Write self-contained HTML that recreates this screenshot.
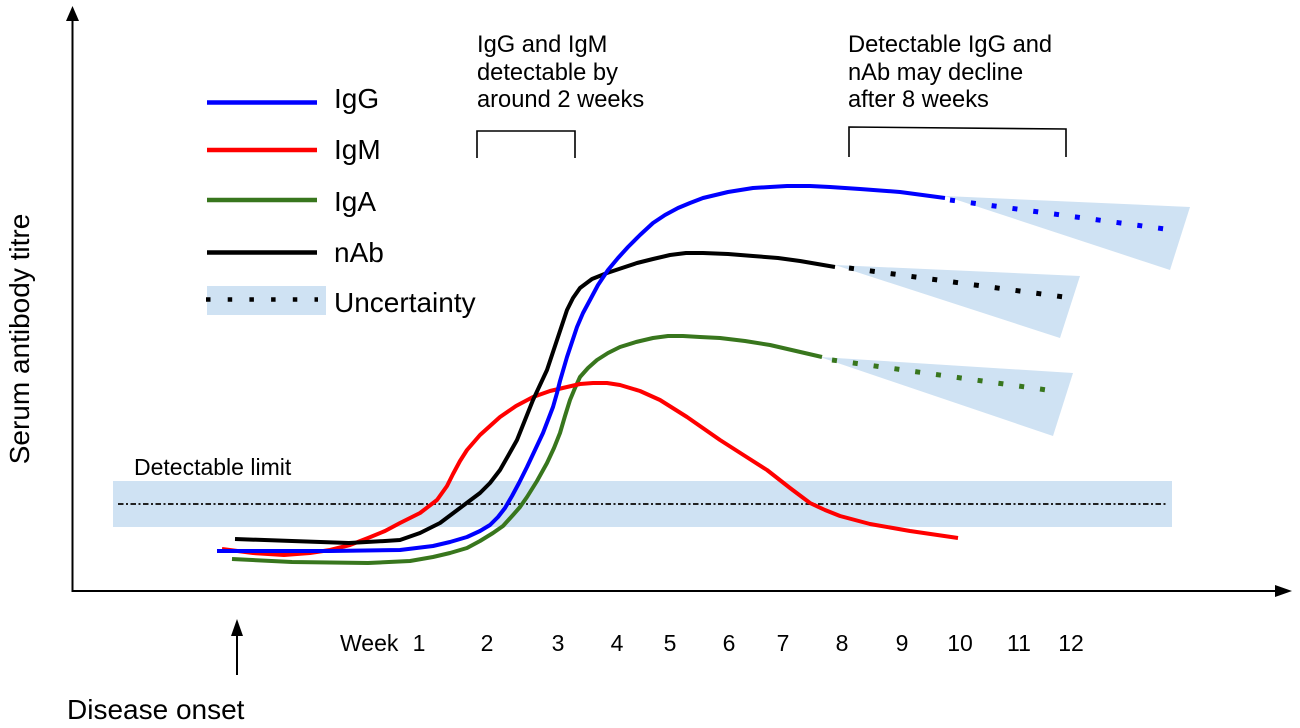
<!DOCTYPE html>
<html>
<head>
<meta charset="utf-8">
<style>
  html,body{margin:0;padding:0;background:#fff;}
  svg{display:block;}
  text{font-family:"Liberation Sans", Arial, sans-serif; fill:#000;}
</style>
</head>
<body>
<svg width="1300" height="728" viewBox="0 0 1300 728" xmlns="http://www.w3.org/2000/svg">
  <rect x="0" y="0" width="1300" height="728" fill="#fff"/>

  <!-- Detectable limit band -->
  <rect x="113" y="481" width="1059" height="46" fill="#cfe2f3"/>
  <line x1="118" y1="504" x2="1168" y2="504" stroke="#222" stroke-width="1.9" stroke-dasharray="5.5 2.5 2 2.5"/>
  <text x="134" y="475" font-size="23">Detectable limit</text>

  <!-- Axes -->
  <line x1="72.5" y1="18" x2="72.5" y2="592" stroke="#000" stroke-width="2"/>
  <polygon points="72.5,6 66,21 79,21" fill="#000"/>
  <line x1="72" y1="591" x2="1278" y2="591" stroke="#000" stroke-width="2"/>
  <polygon points="1292,591 1275,585 1275,597" fill="#000"/>

  <!-- Y label -->
  <text transform="translate(29,339) rotate(-90)" text-anchor="middle" font-size="28">Serum antibody titre</text>

  <!-- Legend -->
  <line x1="207" y1="102.5" x2="317" y2="102.5" stroke="#0000ff" stroke-width="4.5"/>
  <text x="334" y="108" font-size="28">IgG</text>
  <line x1="207" y1="150" x2="317" y2="150" stroke="#ff0000" stroke-width="4.5"/>
  <text x="334" y="159" font-size="28">IgM</text>
  <line x1="207" y1="200" x2="317" y2="200" stroke="#38761d" stroke-width="4.5"/>
  <text x="334" y="211" font-size="28">IgA</text>
  <line x1="207" y1="252.5" x2="317" y2="252.5" stroke="#000" stroke-width="4.5"/>
  <text x="334" y="262" font-size="28">nAb</text>
  <rect x="207" y="286" width="119" height="29" fill="#cfe2f3"/>
  <line x1="206" y1="299.5" x2="318" y2="299.5" stroke="#000" stroke-width="4.5" stroke-dasharray="4.5 17.2"/>
  <text x="334" y="312" font-size="28">Uncertainty</text>

  <!-- Annotations -->
  <g font-size="23.7">
    <text x="477" y="52">IgG and IgM</text>
    <text x="477" y="80">detectable by</text>
    <text x="477" y="107">around 2 weeks</text>
    <text x="848" y="52">Detectable IgG and</text>
    <text x="848" y="80">nAb may decline</text>
    <text x="848" y="107">after 8 weeks</text>
  </g>
  <polyline points="477,158 477,131 575,131 575,158" fill="none" stroke="#000" stroke-width="1.6"/>
  <polyline points="849,157 849,127 1066,129 1066,157" fill="none" stroke="#000" stroke-width="1.6"/>

  <!-- Uncertainty wedges -->
  <polygon points="945,196 1190,207 1170,270" fill="#cfe2f3"/>
  <polygon points="835,265 1080,276 1060,338" fill="#cfe2f3"/>
  <polygon points="820,357 1073,373 1053,436" fill="#cfe2f3"/>

  <!-- Dotted continuations -->
  <line x1="950" y1="200" x2="1165" y2="229" stroke="#0000ff" stroke-width="5" stroke-dasharray="5 16"/>
  <line x1="849" y1="268" x2="1064" y2="297" stroke="#000" stroke-width="5" stroke-dasharray="5 16"/>
  <line x1="832" y1="360" x2="1047" y2="390" stroke="#38761d" stroke-width="5" stroke-dasharray="5 16"/>

  <!-- Curves -->
  <g fill="none" stroke-width="4" stroke-linejoin="round" stroke-linecap="butt">
    <!-- IgA green -->
    <polyline stroke="#38761d" points="232,559 292,562 368,563 410,561 433,557 450,553 467,548 480,541 493,533 503,526 513,515 520,507 527,497 537,481 547,463 554,448 560,433 565,416 570,400 575,388 580,377 588,368 597,360 608,353 620,347 636,342 653,338 668,336 683,336 700,337 720,338 745,341 770,345 796,351 822,357"/>
    <!-- IgM red -->
    <polyline stroke="#ff0000" points="222,549 253,553 284,555 310,553 330,550 350,545 368,538 385,531 400,523 420,513 437,500 447,486 453,474 460,461 467,450 480,435 490,426 500,417 516,406 533,397 550,391 567,387 580,384 593,383 607,383 620,385 640,391 660,400 687,417 720,440 745,456 767,470 790,488 810,503 825,510 840,516 870,524 910,531 958,538"/>
    <!-- nAb black -->
    <polyline stroke="#000" points="235,539 292,541 349,543 385,541 400,540 420,533 440,523 460,508 480,493 490,483 500,470 508,456 517,440 525,420 533,400 540,385 547,370 552,355 557,340 562,325 567,310 573,298 580,288 592,279 607,273 622,268 637,263 653,259 670,255 686,253 703,253 728,254 753,256 778,258 800,261 835,267"/>
    <!-- IgG blue -->
    <polyline stroke="#0000ff" points="217,551 253,551 330,551 400,550 433,546 450,542 467,537 480,531 490,525 498,517 505,508 512,496 519,483 527,467 535,450 543,433 548,420 553,407 557,393 560,381 567,357 572,342 577,327 583,313 590,300 598,285 608,270 618,258 628,247 640,235 653,223 665,215 678,208 690,203 703,198 728,192 753,188 770,187 787,186 810,186 830,187 860,189 900,192 945,198"/>
  </g>

  <!-- X tick labels -->
  <g font-size="23">
    <text x="340" y="651">Week</text>
    <g text-anchor="middle">
      <text x="419" y="651">1</text>
      <text x="487" y="651">2</text>
      <text x="558" y="651">3</text>
      <text x="617" y="651">4</text>
      <text x="670" y="651">5</text>
      <text x="729" y="651">6</text>
      <text x="783" y="651">7</text>
      <text x="842" y="651">8</text>
      <text x="902" y="651">9</text>
      <text x="960" y="651">10</text>
      <text x="1019" y="651">11</text>
      <text x="1071" y="651">12</text>
    </g>
  </g>

  <!-- Disease onset -->
  <line x1="237" y1="632" x2="237" y2="675" stroke="#000" stroke-width="2"/>
  <polygon points="237,619 231,636 243,636" fill="#000"/>
  <text x="67" y="719" font-size="28">Disease onset</text>
</svg>
</body>
</html>
